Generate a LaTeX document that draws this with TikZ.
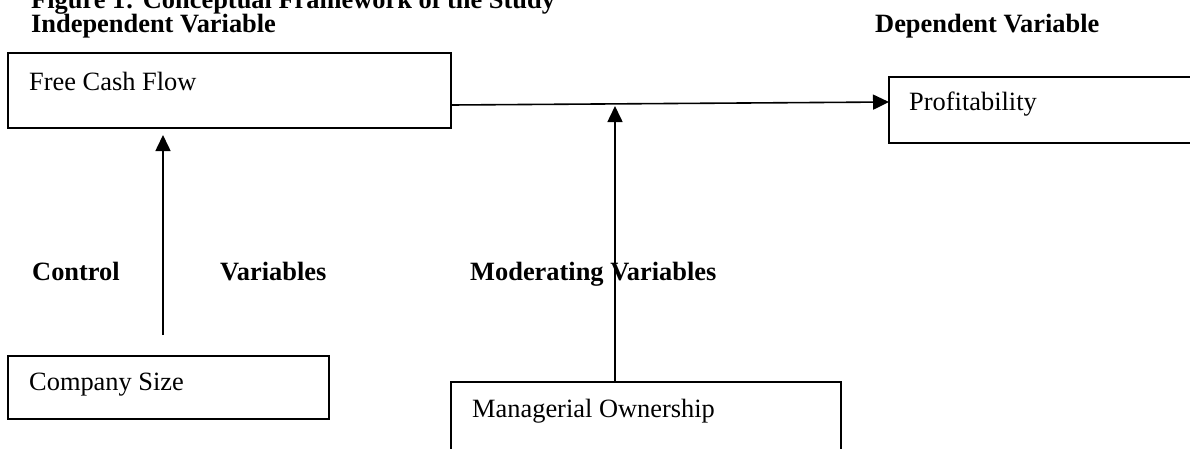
\documentclass[tikz,border=0pt]{standalone}
\usepackage{fontspec}
\setmainfont{Liberation Serif}
\usetikzlibrary{arrows.meta}
\begin{document}
\begin{tikzpicture}[x=1pt,y=-1pt,
  box/.style={draw,line width=1.6pt,inner sep=0pt,outer sep=0pt,anchor=north west},
  lbl/.style={anchor=base west,inner sep=0pt,font=\fontsize{26.4}{30}\selectfont},
  hdr/.style={anchor=base west,inner sep=0pt,font=\fontsize{26.4}{30}\selectfont\bfseries},
  arr/.style={line width=1.6pt,-{Triangle[length=16pt,width=15pt]}}]
\useasboundingbox (0,0) rectangle (1190,448);
\clip (0,0) rectangle (1190,448);
% titles
\node[hdr] (title) at (31,8) {Figure 1: Conceptual Framework of the Study};
\node[hdr] (indep) at (31,32) {Independent Variable};
\node[hdr] (dep) at (875,32) {Dependent Variable};
\node[hdr] (ctrl) at (32,280) {Control};
\node[hdr] (ctrlv) at (220,280) {Variables};
\node[hdr] (mod) at (470,280) {Moderating Variables};
% boxes
\node[box,minimum width=443pt,minimum height=75pt] (fcf) at (8,53) {};
\node[box,minimum width=320pt,minimum height=66pt] (prof) at (889,77) {};
\node[box,minimum width=321pt,minimum height=63pt] (size) at (8,356) {};
\node[box,minimum width=390pt,minimum height=90pt] (mgr) at (451,382) {};
% box texts
\node[lbl] (fcft) at (29,90) {Free Cash Flow};
\node[lbl] (proft) at (909,110) {Profitability};
\node[lbl] (sizet) at (29,390) {Company Size};
\node[lbl] (mgrt) at (472,417) {Managerial Ownership};
% connectors
\coordinate (h1) at (451,105);
\coordinate (h2) at (889,102);
\coordinate (m1) at (615,382);
\coordinate (m2) at (615,104);
\coordinate (c1) at (163,335);
\coordinate (c2) at (163,130);
\draw[arr] (h1) -- (h2);
\draw[arr,shorten >=2pt] (m1) -- (m2);
\draw[arr,shorten >=5pt] (c1) -- (c2);
\end{tikzpicture}
\end{document}
